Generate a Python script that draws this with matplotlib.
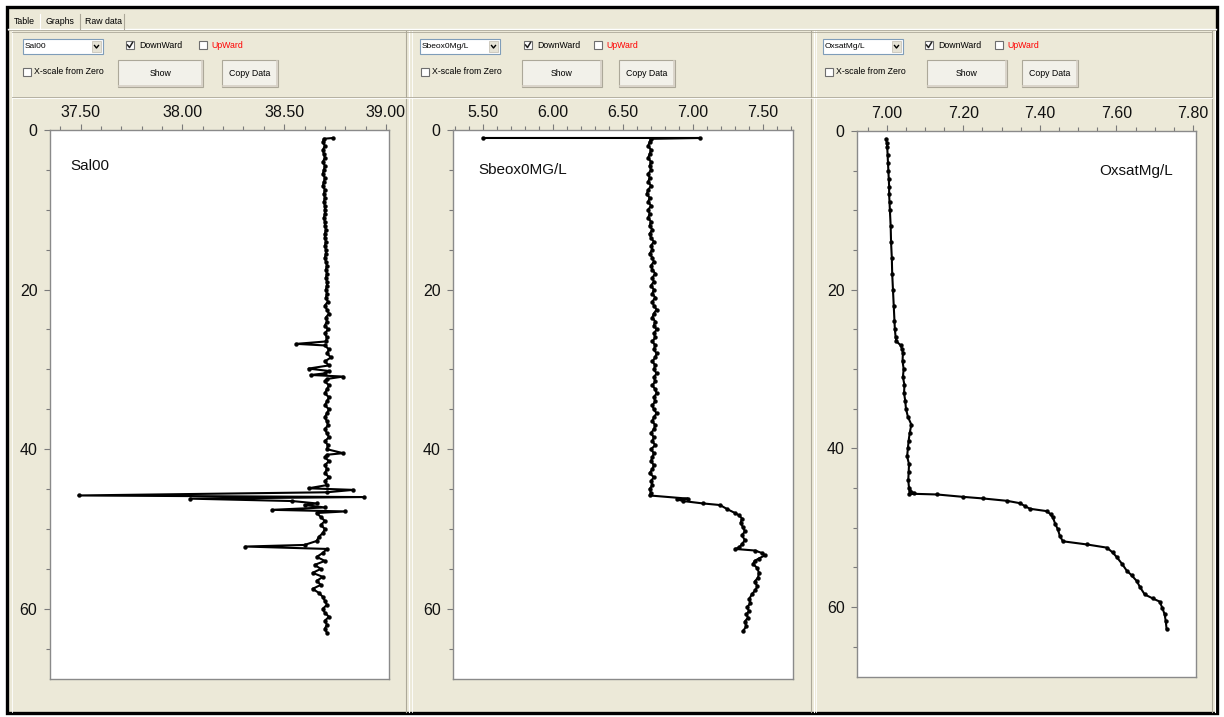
import matplotlib
matplotlib.use("Agg")
import matplotlib.pyplot as plt
from matplotlib.patches import Rectangle
from matplotlib.ticker import MultipleLocator, FormatStrFormatter

# ---------------- data ----------------
sal_depth = [
    1.0, 1.1, 1.5, 2.0, 2.5, 3.0, 3.5, 4.0, 4.5, 5.0,
    5.5, 6.0, 6.5, 7.0, 7.5, 8.0, 8.5, 9.0, 9.5, 10.0,
    10.5, 11.0, 11.5, 12.0, 12.5, 13.0, 13.5, 14.0, 14.5, 15.0,
    15.5, 16.0, 16.5, 17.0, 17.5, 18.0, 18.5, 19.0, 19.5, 20.0,
    20.5, 21.0, 21.5, 22.0, 22.5, 23.0, 23.5, 24.0, 24.5, 25.0,
    25.5, 26.0, 26.5, 26.8, 27.0, 27.5, 28.0, 28.5, 29.0, 29.5,
    29.9, 30.2, 30.5, 30.7, 30.9, 31.2, 31.5, 32.0, 32.5, 33.0,
    33.5, 34.0, 34.5, 35.0, 35.5, 36.0, 36.5, 37.0, 37.5, 38.0,
    38.5, 39.0, 39.5, 40.0, 40.5, 40.7, 41.0, 41.5, 42.0, 42.5,
    43.0, 43.5, 44.0, 44.5, 44.9, 45.1, 45.4, 45.8, 46.0, 46.2,
    46.5, 46.8, 47.0, 47.3, 47.6, 47.8, 48.0, 48.5, 49.0, 49.5,
    50.0, 50.5, 51.0, 51.5, 52.0, 52.2, 52.5, 53.0, 53.5, 54.0,
    54.5, 55.0, 55.5, 56.0, 56.5, 57.0, 57.5, 58.0, 58.5, 59.0,
    59.5, 60.0, 60.5, 61.0, 61.5, 62.0, 62.5, 63.0,
]
sal_value = [
    38.74, 38.695, 38.69, 38.70, 38.69, 38.695, 38.70, 38.69, 38.70, 38.695,
    38.69, 38.70, 38.695, 38.69, 38.70, 38.695, 38.70, 38.695, 38.70, 38.70,
    38.70, 38.695, 38.70, 38.70, 38.705, 38.70, 38.70, 38.705, 38.70, 38.705,
    38.705, 38.70, 38.705, 38.71, 38.705, 38.71, 38.705, 38.71, 38.71, 38.705,
    38.71, 38.705, 38.715, 38.70, 38.71, 38.72, 38.705, 38.71, 38.70, 38.715,
    38.70, 38.71, 38.705, 38.56, 38.70, 38.72, 38.71, 38.73, 38.70, 38.72,
    38.62, 38.72, 38.70, 38.63, 38.79, 38.71, 38.70, 38.72, 38.71, 38.70,
    38.72, 38.71, 38.70, 38.72, 38.71, 38.70, 38.71, 38.715, 38.70, 38.71,
    38.72, 38.70, 38.715, 38.71, 38.79, 38.71, 38.70, 38.72, 38.70, 38.71,
    38.70, 38.72, 38.70, 38.71, 38.62, 38.84, 38.71, 37.49, 38.89, 38.04,
    38.54, 38.66, 38.60, 38.70, 38.44, 38.80, 38.66, 38.68, 38.70, 38.68,
    38.70, 38.69, 38.67, 38.66, 38.60, 38.31, 38.71, 38.69, 38.66, 38.70,
    38.65, 38.68, 38.64, 38.69, 38.66, 38.68, 38.64, 38.67, 38.69, 38.70,
    38.71, 38.69, 38.70, 38.72, 38.70, 38.71, 38.70, 38.71,
]

sbeox_depth = [
    1.0, 1.0, 1.1,
    1.5, 2.0, 2.5, 3.0, 3.5, 4.0, 4.5, 5.0, 5.5, 6.0,
    6.5, 7.0, 7.5, 8.0, 8.5, 9.0, 9.5, 10.0, 10.5, 11.0,
    11.5, 12.0, 12.5, 13.0, 13.5, 14.0, 14.5, 15.0, 15.5, 16.0,
    16.5, 17.0, 17.5, 18.0, 18.5, 19.0, 19.5, 20.0, 20.5, 21.0,
    21.5, 22.0, 22.5, 23.0, 23.5, 24.0, 24.5, 25.0, 25.5, 26.0,
    26.5, 27.0, 27.5, 28.0, 28.5, 29.0, 29.5, 30.0, 30.5, 31.0,
    31.5, 32.0, 32.5, 33.0, 33.5, 34.0, 34.5, 35.0, 35.5, 36.0,
    36.5, 37.0, 37.5, 38.0, 38.5, 39.0, 39.5, 40.0, 40.5, 41.0,
    41.5, 42.0, 42.5, 43.0, 43.5, 44.0, 44.5, 45.0, 45.5,
    45.8, 46.2, 46.3, 46.5, 46.8, 47.0, 47.5, 48.0, 48.3, 48.7,
    49.2, 49.8, 50.3, 50.8, 51.4, 51.9, 52.3, 52.5, 52.7, 53.0,
    53.3, 53.7, 54.0, 54.4, 54.9, 55.5, 56.1, 56.6, 57.2, 57.7,
    58.2, 58.8, 59.3, 59.8, 60.3, 60.7, 61.1, 61.6, 62.2, 62.8,
]
sbeox_value = [
    5.50, 7.05, 6.70,
    6.69, 6.68, 6.70, 6.69, 6.68, 6.70, 6.69, 6.70, 6.68, 6.69,
    6.68, 6.70, 6.68, 6.67, 6.69, 6.68, 6.70, 6.68, 6.69, 6.68,
    6.70, 6.69, 6.71, 6.69, 6.70, 6.72, 6.70, 6.71, 6.69, 6.71,
    6.72, 6.70, 6.71, 6.73, 6.71, 6.72, 6.70, 6.72, 6.71, 6.73,
    6.71, 6.72, 6.74, 6.72, 6.71, 6.73, 6.72, 6.74, 6.72, 6.73,
    6.71, 6.73, 6.72, 6.74, 6.73, 6.71, 6.73, 6.72, 6.74, 6.72,
    6.73, 6.71, 6.73, 6.74, 6.72, 6.73, 6.71, 6.72, 6.74, 6.72,
    6.71, 6.73, 6.72, 6.70, 6.72, 6.71, 6.73, 6.70, 6.72, 6.71,
    6.70, 6.72, 6.71, 6.69, 6.72, 6.70, 6.71, 6.69, 6.70,
    6.69, 6.965, 6.886, 6.93, 7.072, 7.193, 7.243, 7.30, 7.33, 7.35,
    7.34, 7.357, 7.37, 7.35, 7.37, 7.35, 7.33, 7.30, 7.443, 7.49,
    7.514, 7.47, 7.44, 7.429, 7.46, 7.47, 7.464, 7.44, 7.46, 7.443,
    7.42, 7.40, 7.41, 7.386, 7.40, 7.38, 7.393, 7.37, 7.38, 7.357,
]

oxsat_depth = [
    1.0, 1.5, 2.0, 3.0, 4.0, 5.0, 6.0, 7.0, 8.0, 9.0,
    10.0, 12.0, 14.0, 16.0, 18.0, 20.0, 22.0, 24.0, 25.0, 26.0,
    26.5, 27.0, 27.5, 28.0, 29.0, 30.0, 31.0, 32.0, 33.0, 34.0,
    35.0, 36.0, 37.0, 38.0, 39.0, 40.0, 41.0, 42.0, 43.0, 44.0,
    45.0, 45.4, 45.6, 45.7, 45.8, 46.1, 46.3, 46.6, 46.9, 47.3,
    47.6, 47.9, 48.3, 48.7, 49.5, 50.2, 51.0, 51.7, 52.1, 52.5,
    53.1, 53.7, 54.5, 55.4, 56.0, 56.7, 57.5, 58.4, 58.9, 59.3,
    60.1, 60.9, 61.8, 62.7,
]
oxsat_value = [
    6.998, 7.000, 7.001, 7.002, 7.003, 7.004, 7.005, 7.006, 7.006, 7.007,
    7.008, 7.010, 7.011, 7.013, 7.014, 7.016, 7.018, 7.020, 7.021, 7.023,
    7.025, 7.036, 7.040, 7.042, 7.041, 7.044, 7.042, 7.046, 7.045, 7.048,
    7.050, 7.055, 7.064, 7.060, 7.057, 7.055, 7.053, 7.058, 7.057, 7.056,
    7.058, 7.060, 7.072, 7.058, 7.131, 7.199, 7.251, 7.314, 7.348, 7.362,
    7.374, 7.418, 7.428, 7.434, 7.440, 7.447, 7.452, 7.460, 7.523, 7.575,
    7.590, 7.601, 7.614, 7.627, 7.640, 7.653, 7.662, 7.674, 7.695, 7.713,
    7.720, 7.726, 7.729, 7.731,
]

panel_names = ["Sal00", "Sbeox0MG/L", "OxsatMg/L"]
combo_names = ["Sal00", "Sbeox0Mg/L", "OxsatMg/L"]
x_limits = [(37.35, 39.015), (5.286, 7.714), (6.922, 7.808)]
x_major = [0.5, 0.5, 0.2]
x_minor = [0.1, 0.1, 0.05]
depth_limit = 68.8

# ---------------- figure / GUI frame ----------------
W, H = 1224, 717
fig = plt.figure(figsize=(W / 100, H / 100), dpi=100)
fig.patch.set_facecolor("white")
bg = fig.add_axes([0, 0, 1, 1])
bg.set_xlim(0, W)
bg.set_ylim(H, 0)
bg.axis("off")
bg.set_zorder(-5)

BEIGE = "#ECE9D8"
GUI_FONT = "Liberation Sans"
bg.add_patch(Rectangle((7, 7), 1210, 706, facecolor=BEIGE, edgecolor="black", lw=2.4))

# tab strip
bg.plot([8, 1216], [29, 29], color="white", lw=1)
bg.plot([8, 1216], [30, 30], color="#ACA899", lw=0.6)
for xt, lab in [(14, "Table"), (46, "Graphs"), (85, "Raw data")]:
    bg.text(xt, 21, lab, fontsize=6.3, family=GUI_FONT, va="center", ha="left")
for xs in [80, 124]:
    bg.plot([xs, xs], [14, 29], color="#ACA899", lw=0.8)
bg.plot([40, 40], [14, 29], color="white", lw=0.8)

# panel separators
for xs in [406, 811, 1212]:
    bg.plot([xs, xs], [31, 712], color="#ACA899", lw=0.8)
    bg.plot([xs + 3, xs + 3], [31, 712], color="white", lw=0.8)
for xs in [12, 412, 816]:
    bg.plot([xs, xs], [31, 712], color="white", lw=0.6)
bg.plot([12, 1212], [32, 32], color="#ACA899", lw=0.6)
bg.plot([12, 1212], [97, 97], color="#ACA899", lw=0.6)
bg.plot([12, 1212], [98, 98], color="white", lw=0.6)


def checkbox(x, y, checked):
    bg.add_patch(Rectangle((x, y - 4), 8, 8, facecolor="white", edgecolor="#6E6E6E", lw=0.8))
    if checked:
        bg.plot([x + 1.5, x + 3.5, x + 6.5], [y, y + 2.5, y - 2.5], color="#222222", lw=1.1)


def button(x0, y0, x1, y1, label):
    bg.add_patch(Rectangle((x0, y0), x1 - x0, y1 - y0, facecolor="#F2F1EA",
                           edgecolor="#ACA899", lw=0.8))
    bg.plot([x0 + 1, x1 - 1], [y1 - 1, y1 - 1], color="#D6D0C5", lw=1.2)
    bg.plot([x1 - 1, x1 - 1], [y0 + 1, y1 - 1], color="#D6D0C5", lw=1.2)
    bg.text((x0 + x1) / 2, (y0 + y1) / 2, label, fontsize=6.3, family=GUI_FONT,
            ha="center", va="center")


controls = [
    dict(combo=23, cb=126, up=199, xs=23, show=(118, 203), copy=(222, 278)),
    dict(combo=420, cb=524, up=594, xs=421, show=(522, 602), copy=(619, 675)),
    dict(combo=823, cb=925, up=995, xs=825, show=(927, 1007), copy=(1022, 1078)),
]
for c, name in zip(controls, combo_names):
    x0 = c["combo"]
    bg.add_patch(Rectangle((x0, 39), 80, 15, facecolor="white", edgecolor="#7F9DB9", lw=0.8))
    bg.add_patch(Rectangle((x0 + 69, 41), 9, 11, facecolor="#E6E3D6", edgecolor="#C0BCAE", lw=0.5))
    bg.plot([x0 + 71.5, x0 + 73.5, x0 + 75.5], [45.5, 48, 45.5], color="black", lw=1.0)
    bg.text(x0 + 2, 46.5, name, fontsize=6, family=GUI_FONT, va="center", ha="left")
    checkbox(c["cb"], 45, True)
    bg.text(c["cb"] + 13, 45, "DownWard", fontsize=6.3, family=GUI_FONT, va="center", ha="left")
    checkbox(c["up"], 45, False)
    bg.text(c["up"] + 12, 45, "UpWard", fontsize=6.3, family=GUI_FONT, va="center",
            ha="left", color="#FF0000")
    checkbox(c["xs"], 72, False)
    bg.text(c["xs"] + 11, 72, "X-scale from Zero", fontsize=6.3, family=GUI_FONT,
            va="center", ha="left")
    button(c["show"][0], 60, c["show"][1], 87, "Show")
    button(c["copy"][0], 60, c["copy"][1], 87, "Copy Data")

# ---------------- plot panels ----------------
boxes = [(50, 130, 389, 679), (453, 130, 793, 679), (857, 131, 1196, 677)]
series = [(sal_value, sal_depth), (sbeox_value, sbeox_depth), (oxsat_value, oxsat_depth)]
label_pos = [(0.059, 0.934, "left"), (0.0735, 0.927, "left"), (0.932, 0.927, "right")]

for i, (l, t, r, b) in enumerate(boxes):
    ax = fig.add_axes([l / W, 1 - b / H, (r - l) / W, (b - t) / H])
    ax.set_facecolor("white")
    vals, deps = series[i]
    ax.plot(vals, deps, color="black", lw=1.5, marker="o", ms=2.8,
            mfc="black", mec="black", mew=0.3)
    ax.set_xlim(*x_limits[i])
    ax.set_ylim(depth_limit, 0)
    ax.xaxis.tick_top()
    ax.xaxis.set_major_locator(MultipleLocator(x_major[i]))
    ax.xaxis.set_minor_locator(MultipleLocator(x_minor[i]))
    ax.xaxis.set_major_formatter(FormatStrFormatter("%.2f"))
    ax.yaxis.set_major_locator(MultipleLocator(20))
    ax.yaxis.set_minor_locator(MultipleLocator(5))
    ax.tick_params(which="both", direction="out", color="#7A7A7A", width=0.8,
                   labelsize=11.5, labelcolor="#111111")
    ax.tick_params(which="major", length=4)
    ax.tick_params(which="minor", length=3)
    ax.tick_params(axis="x", which="both", top=True, bottom=False, pad=3)
    ax.tick_params(axis="y", which="both", pad=5)
    for lab in ax.get_xticklabels() + ax.get_yticklabels():
        lab.set_family("Liberation Sans")
    for sp in ax.spines.values():
        sp.set_color("#8A8A8A")
        sp.set_linewidth(1.0)
    lx, ly, ha = label_pos[i]
    ax.text(lx, ly, panel_names[i], transform=ax.transAxes, fontsize=11,
            family="Liberation Sans", ha=ha, va="center", color="#111111")

fig.savefig("out.png", dpi=100, facecolor=fig.get_facecolor())
